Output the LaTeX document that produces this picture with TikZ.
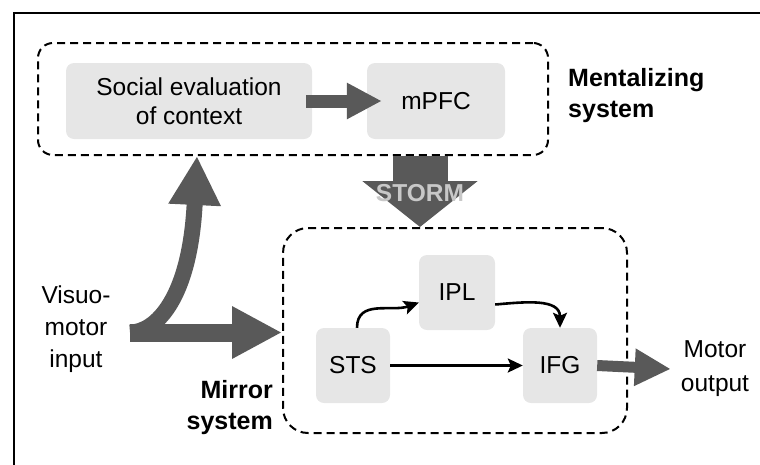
\documentclass[tikz,border=0pt]{standalone}
\usepackage{fontspec}
\setmainfont{Liberation Sans}
\usetikzlibrary{arrows.meta}
\definecolor{boxgray}{HTML}{E6E6E6}
\definecolor{arrgray}{HTML}{595959}
\definecolor{stormtxt}{HTML}{C8C8C8}
\tikzset{
  graybox/.style={fill=boxgray, rounded corners=8pt, inner sep=0pt, align=center,
    font=\fontsize{24.5}{29}\selectfont},
  dashbox/.style={draw=black, line width=2pt, dash pattern=on 8pt off 5pt, inner sep=0pt},
  thinarrow/.style={draw=black, line width=2.6pt, -{Stealth[length=15pt,width=14pt,inset=3pt]}},
  lbl/.style={inner sep=0pt, font=\fontsize{24.5}{32}\selectfont},
  boldlbl/.style={inner sep=0pt, font=\fontsize{25}{31}\selectfont\bfseries}
}
\begin{document}
\begin{tikzpicture}[x=1pt,y=-1pt]
\useasboundingbox (0,0) rectangle (760,464);
% outer frame (cut off at right and bottom)
\draw[line width=2pt] (14,470) -- (14,13) -- (770,13);

% dashed system boxes
\node[dashbox, rounded corners=15pt, minimum width=510pt, minimum height=112pt] (mentbox) at (293,99) {};
\node[dashbox, rounded corners=25pt, minimum width=344pt, minimum height=205pt] (mirrorbox) at (455,330.5) {};

% gray boxes
\node[graybox, minimum width=246pt, minimum height=76pt] (social) at (189,101) {Social evaluation\\of context};
\node[graybox, minimum width=138pt, minimum height=76pt] (mpfc) at (436,101) {mPFC};
\node[graybox, minimum width=74pt, minimum height=75pt] (sts) at (353,365.5) {STS};
\node[graybox, minimum width=76pt, minimum height=75pt] (ipl) at (457,292.5) {IPL};
\node[graybox, minimum width=74pt, minimum height=75pt] (ifg) at (560,365.5) {IFG};

% labels
\node[boldlbl, align=left, anchor=west] (mentlbl) at (568,96) {Mentalizing\\system};
\node[boldlbl, align=right, anchor=east] (mirrlbl) at (273,407.5) {Mirror\\system};
\node[lbl, align=center] (vin) at (76,329) {Visuo-\\motor\\input};
\node[lbl, align=center, font=\fontsize{24.5}{34}\selectfont] (mout) at (715,369) {Motor\\output};

% big gray arrows
\draw[arrgray, line width=13pt, -{Triangle[length=35pt,width=34pt]}]
  ([xshift=-6pt]social.east) -- ([xshift=15pt]mpfc.west);
\draw[arrgray, line width=11pt, -{Triangle[length=36pt,width=35pt]}]
  (ifg.east) -- ([xshift=-10pt]mout.west);
\draw[arrgray, line width=55pt, -{Triangle[length=46pt,width=113pt]}]
  ([xshift=127pt]mentbox.south) -- ([xshift=-35pt]mirrorbox.north)
  node[pos=0.52, text=stormtxt, inner sep=0pt, font=\fontsize{24.5}{29}\selectfont\bfseries] (storm) {STORM};

\coordinate (vstart) at (130,332.5);
\draw[arrgray, line width=18pt, -{Triangle[length=50pt,width=49pt]}]
  (vstart) -- (vstart -| mirrorbox.west);
\draw[arrgray, line width=16pt, -{Triangle[length=49pt,width=49pt]}]
  (vstart) .. controls (155,332.5) and (190,300) .. ([xshift=-96pt]mentbox.south);

% black arrows in the mirror system
\draw[thinarrow] (sts.east) -- (ifg.west);
\draw[thinarrow] ([xshift=4pt]sts.north) to[out=90, in=200, looseness=1.1] ([yshift=-10pt]ipl.west);
\draw[thinarrow] ([yshift=-12pt]ipl.east) to[out=5, in=90, looseness=1.1] (ifg.north);
\end{tikzpicture}
\end{document}
